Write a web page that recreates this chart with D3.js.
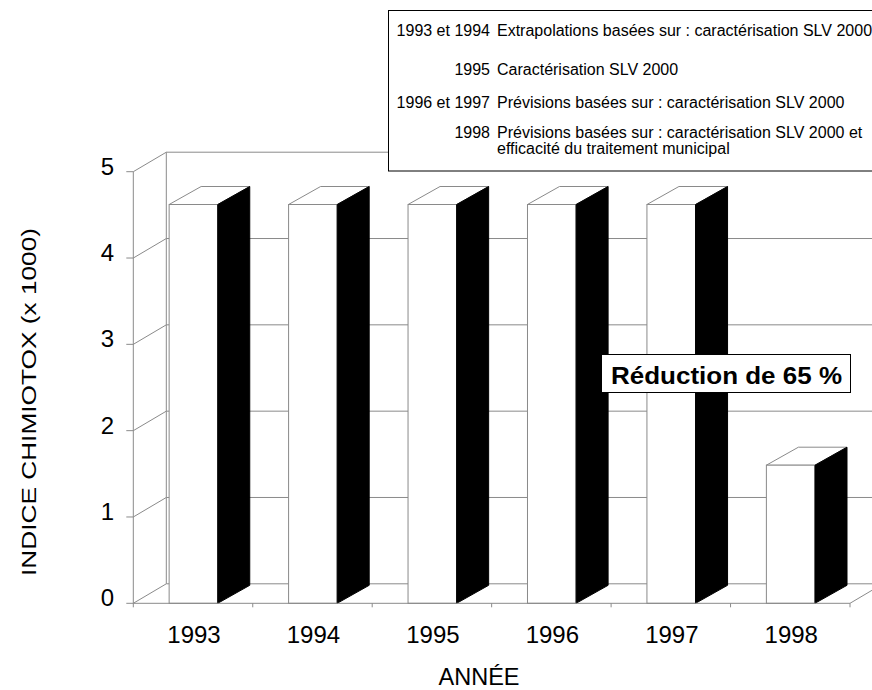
<!DOCTYPE html>
<html><head><meta charset="utf-8">
<script src="https://cdn.jsdelivr.net/npm/d3@7"></script>
<style>body{margin:0;background:#fff} svg{display:block} svg text{font-family:"Liberation Sans",Arial,Helvetica,sans-serif}</style>
</head><body><svg id="c" width="872" height="690"></svg>
<script>
const categories = ["1993","1994","1995","1996","1997","1998"];
const values = [4.62, 4.62, 4.62, 4.62, 4.62, 1.60];
const yTicks = [0, 1, 2, 3, 4, 5];
const legendYears = ["1993 et 1994", "1995", "1996 et 1997", "1998", ""];
const legendTexts = ["Extrapolations basées sur : caractérisation SLV 2000",
  "Caractérisation SLV 2000",
  "Prévisions basées sur : caractérisation SLV 2000",
  "Prévisions basées sur : caractérisation SLV 2000 et",
  "efficacité du traitement  municipal"];
const annotation = "Réduction de 65 %";
const xTitle = "ANNÉE";
const yTitle = "INDICE CHIMIOTOX (x 1000)";

const svg = d3.select("#c");
const GRAY = "#8a8a8a";
const x = d3.scaleBand().domain(categories).range([133.3, 850]).padding(0);
const y = d3.scaleLinear().domain([0, 5]).range([603.3, 171.7]);
const DX = 33, DY = -19.5;      // wall depth
const BDX = 32, BDY = -18;      // bar depth
const bw = x.bandwidth();
const W = 872;

const g = svg.append("g");
yTicks.forEach(v => {
  g.append("line").attr("x1", x.range()[0] + DX).attr("x2", W + 20)
    .attr("y1", y(v) + DY).attr("y2", y(v) + DY).attr("stroke", GRAY);
  g.append("line").attr("x1", x.range()[0]).attr("y1", y(v))
    .attr("x2", x.range()[0] + DX).attr("y2", y(v) + DY).attr("stroke", GRAY);
});
g.append("line").attr("x1", x.range()[0] + DX).attr("x2", x.range()[0] + DX)
  .attr("y1", y(5) + DY).attr("y2", y(0) + DY).attr("stroke", GRAY);
g.append("line").attr("x1", x.range()[0]).attr("x2", x.range()[0])
  .attr("y1", y(5)).attr("y2", y(0)).attr("stroke", GRAY);
g.append("line").attr("x1", x.range()[1]).attr("y1", y(0))
  .attr("x2", x.range()[1] + DX).attr("y2", y(0) + DY).attr("stroke", GRAY);
yTicks.forEach(v => {
  g.append("line").attr("x1", x.range()[0] - 7).attr("x2", x.range()[0])
    .attr("y1", y(v)).attr("y2", y(v)).attr("stroke", GRAY);
  g.append("text").attr("x", 114).attr("y", y(v) + 3).attr("text-anchor", "end")
    .attr("font-size", 24).text(v);
});

categories.forEach((c, i) => {
  const v = values[i];
  const bx = x(c) + bw * 0.30, fw = bw * 0.407;
  const y0 = y(0), yv = y(v);
  g.append("polygon").attr("points", [[bx, yv], [bx + BDX, yv + BDY], [bx + fw + BDX, yv + BDY], [bx + fw, yv]].join(" "))
    .attr("fill", "#fff").attr("stroke", GRAY);
  g.append("rect").attr("x", bx).attr("y", yv).attr("width", fw).attr("height", y0 - yv)
    .attr("fill", "#fff").attr("stroke", GRAY);
  g.append("polygon").attr("points", [[bx + fw, y0], [bx + fw + BDX, y0 + BDY], [bx + fw + BDX, yv + BDY], [bx + fw, yv]].join(" "))
    .attr("fill", "#000").attr("stroke", "#000");
});

g.append("line").attr("x1", x.range()[0]).attr("x2", x.range()[1])
  .attr("y1", y(0)).attr("y2", y(0)).attr("stroke", GRAY);
const bounds = categories.map(c => x(c)).concat([x.range()[1]]);
bounds.forEach(b => g.append("line").attr("x1", b).attr("x2", b)
  .attr("y1", y(0)).attr("y2", y(0) + 4).attr("stroke", GRAY));
categories.forEach(c => g.append("text").attr("x", x(c) + bw / 2 + 1).attr("y", 643.3)
  .attr("text-anchor", "middle").attr("font-size", 24).text(c));

svg.append("text").attr("x", 479).attr("y", 685).attr("text-anchor", "middle")
  .attr("font-size", 23.5).text(xTitle);
svg.append("text").attr("transform", "translate(36,402) rotate(-90)").attr("text-anchor", "middle")
  .attr("font-size", 21).attr("textLength", 348).attr("lengthAdjust", "spacingAndGlyphs").text(yTitle);

svg.append("rect").attr("x", 601.5).attr("y", 354.5).attr("width", 249).attr("height", 38)
  .attr("fill", "#fff").attr("stroke", "#000");
svg.append("text").attr("x", 611).attr("y", 384).attr("font-size", 23).attr("font-weight", "bold")
  .attr("textLength", 231).attr("lengthAdjust", "spacingAndGlyphs").text(annotation);

svg.append("rect").attr("x", 388.5).attr("y", 10.5).attr("width", 520).attr("height", 160.5)
  .attr("fill", "#fff").attr("stroke", "#000");
const lineY = [35.5, 74.5, 108, 137.5, 153.5];
legendTexts.forEach((t, i) => {
  svg.append("text").attr("x", 490).attr("y", lineY[i])
    .attr("text-anchor", "end").attr("font-size", 16).text(legendYears[i]);
  svg.append("text").attr("x", 497).attr("y", lineY[i])
    .attr("font-size", 16).text(t);
});
</script></body></html>
